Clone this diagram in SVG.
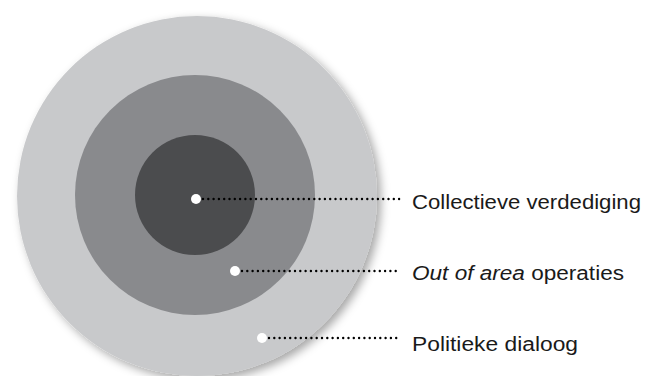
<svg xmlns="http://www.w3.org/2000/svg" width="647" height="376" viewBox="0 0 647 376">
<style>
.lbl{font-family:"Liberation Sans",Arial,sans-serif;font-size:20px;fill:#1a1a1a}
.conn{stroke:#000;stroke-width:2.4;stroke-linecap:round;stroke-dasharray:0 5.3;fill:none}
.pt{fill:#fff}
</style>
<defs>
<filter id="sh" x="-20%" y="-20%" width="150%" height="150%">
<feDropShadow dx="4" dy="4" stdDeviation="5" flood-color="#000" flood-opacity="0.35"/>
</filter>
</defs>
<rect width="647" height="376" fill="#fff"/>
<g id="ring-outer"><circle cx="197" cy="196" r="180" fill="#c8c9cb" filter="url(#sh)"/></g>
<g id="ring-middle"><circle cx="195" cy="195" r="120" fill="#898a8d"/></g>
<g id="ring-inner"><circle cx="195" cy="195" r="60" fill="#4b4c4e"/></g>
<g id="connectors">
<line class="conn" x1="203" y1="199" x2="401" y2="199"/>
<line class="conn" x1="242" y1="271" x2="401" y2="271"/>
<line class="conn" x1="269" y1="338" x2="401" y2="338"/>
</g>
<g id="label-collectieve">
<circle class="pt" cx="196" cy="199" r="5"/>
<text class="lbl" x="412" y="209" textLength="229" lengthAdjust="spacingAndGlyphs">Collectieve verdediging</text>
</g>
<g id="label-outofarea">
<circle class="pt" cx="235" cy="271" r="5"/>
<text class="lbl" x="412" y="280" textLength="212" lengthAdjust="spacingAndGlyphs"><tspan font-style="italic">Out of area</tspan> operaties</text>
</g>
<g id="label-politieke">
<circle class="pt" cx="262" cy="338" r="5"/>
<text class="lbl" x="412" y="351" textLength="166" lengthAdjust="spacingAndGlyphs">Politieke dialoog</text>
</g>
</svg>
